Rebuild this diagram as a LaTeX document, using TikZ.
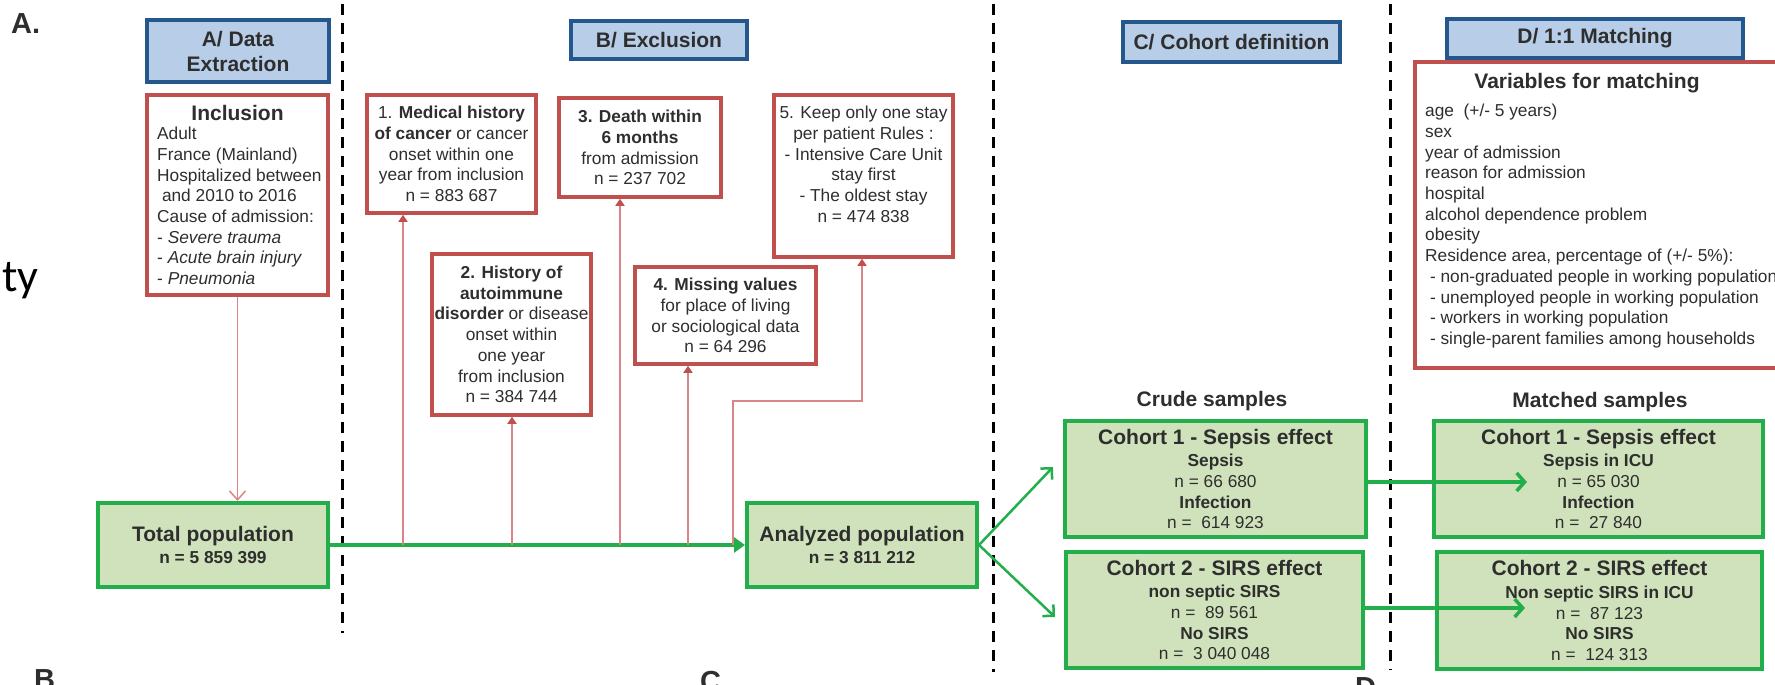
\documentclass[tikz,border=0pt]{standalone}
\usepackage{fontspec}
\setmainfont{Liberation Sans}
\newfontfamily\fragfont{Carlito}
\usetikzlibrary{arrows.meta}

\definecolor{hdrfill}{HTML}{B7CDE8}
\definecolor{hdrline}{HTML}{24588C}
\definecolor{redline}{HTML}{C0504D}
\definecolor{redarrow}{HTML}{D98587}
\definecolor{grfill}{HTML}{D0E2BB}
\definecolor{grline}{HTML}{22AE4B}
\definecolor{txt}{HTML}{2E2E2E}

\tikzset{
 hdr/.style={draw=hdrline, fill=hdrfill, line width=3.5pt, inner sep=0pt, align=center, font=\fontsize{21}{25}\selectfont\bfseries, text=txt},
 redbox/.style={draw=redline, line width=3.5pt, fill=white, inner sep=0pt, align=center, font=\fontsize{17.3}{20.7}\selectfont, text=txt},
 grbox/.style={draw=grline, fill=grfill, line width=4pt, inner sep=0pt, align=center, font=\fontsize{17.3}{20.7}\selectfont, text=txt},
 bodytxt/.style={inner sep=0pt, align=left, font=\fontsize{17.3}{20.7}\selectfont, text=txt},
 bigtxt/.style={font=\fontsize{21}{25}\selectfont\bfseries, text=txt, inner sep=0pt},
 lbltxt/.style={font=\fontsize{29}{32}\selectfont\bfseries, text=txt, inner sep=0pt, anchor=north west},
 divider/.style={line width=3pt, dash pattern=on 11pt off 8pt},
 exarrow/.style={draw=redarrow, line width=1.5pt, -{Triangle[length=7pt,width=9pt,color=redline]}},
 inarrow/.style={draw=redarrow, line width=1.5pt, -{Straight Barb[length=9pt,width=16pt]}},
 mainarrow/.style={draw=grline, line width=4pt, -{Triangle[length=11pt,width=15pt]}},
 fanarrow/.style={draw=grline, line width=2.5pt, -{Straight Barb[length=8pt,width=16pt]}},
 matcharrow/.style={draw=grline, line width=3.5pt, -{Straight Barb[length=8pt,width=18pt]}},
}

\begin{document}
\begin{tikzpicture}[x=1pt,y=-1pt]
\useasboundingbox (0,0) rectangle (1775,685);
\clip (0,0) rectangle (1775,685);

% clipped fragments of surrounding figure
\node[lbltxt] (lblA) at (11,13) {A.};
\node[anchor=base east, inner sep=0pt, font=\fragfont\fontsize{46}{50}\selectfont, text=black] (frag) at (39,291) {ty};
\node[lbltxt] (lblB) at (34,669) {B};
\node[lbltxt] (lblC) at (700,671) {C};
\node[lbltxt] (lblD) at (1355,677) {D};

% dividers
\draw[divider] (342,4) -- (342,633);
\draw[divider] (993,4) -- (993,672);
\draw[divider] (1390,4) -- (1390,670);

% headers
\node[hdr, minimum width=182pt, minimum height=62pt] (hA) at (238,51) {A/ Data\\Extraction};
\node[hdr, minimum width=176pt, minimum height=38pt] (hB) at (659,40) {B/ Exclusion};
\node[hdr, minimum width=217pt, minimum height=40pt] (hC) at (1231.5,42) {C/ Cohort definition};
\node[hdr, minimum width=296pt, minimum height=39pt] (hD) at (1595,38.5) {D/ 1:1 Matching};

% inclusion
\node[redbox, minimum width=181pt, minimum height=200pt] (inc) at (237.5,195) {};
\node[bigtxt] (incT) at (237.5,113) {Inclusion};
\node[bodytxt, anchor=north west] (incB) at (157,127) {Adult\\France (Mainland)\\Hospitalized between\\\ and 2010 to 2016\\Cause of admission:\\- \textit{Severe trauma}\\- \textit{Acute brain injury}\\- \textit{Pneumonia}};

% exclusion boxes
\node[redbox, minimum width=169pt, minimum height=118pt] (b1) at (451.5,154) {1. \textbf{Medical history}\\\textbf{of cancer} or cancer\\onset within one\\year from inclusion\\n = 883 687};
\node[redbox, minimum width=159pt, minimum height=161pt] (b2) at (511.5,334.5) {\textbf{2. History of}\\\textbf{autoimmune}\\\textbf{disorder} or disease\\onset within\\one year\\from inclusion\\n = 384 744};
\node[redbox, minimum width=162pt, minimum height=99pt] (b3) at (640,147.5) {\textbf{3. Death within}\\\textbf{6 months}\\from admission\\n = 237 702};
\node[redbox, minimum width=181pt, minimum height=97pt] (b4) at (725.5,315.5) {\textbf{4. Missing values}\\for place of living\\or sociological data\\n = 64 296};
\node[redbox, minimum width=179pt, minimum height=162pt] (b5) at (863.5,176) {};
\node[bodytxt, align=center, anchor=north] (b5t) at (863.5,106) {5. Keep only one stay\\per patient Rules :\\- Intensive Care Unit\\stay first\\- The oldest stay\\n = 474 838};

% populations
\node[grbox, minimum width=230pt, minimum height=84pt] (tot) at (213,545) {{\fontsize{21}{25}\selectfont\bfseries Total population}\\[1pt]\textbf{n = 5 859 399}};
\node[grbox, minimum width=230pt, minimum height=84pt] (ana) at (862,545) {{\fontsize{21}{25}\selectfont\bfseries Analyzed population}\\[1pt]\textbf{n = 3 811 212}};

% crude samples
\node[bigtxt] (crude) at (1212,401) {Crude samples};
\node[grbox, minimum width=301pt, minimum height=116pt] (c1) at (1215.5,479) {{\fontsize{21}{25}\selectfont\bfseries Cohort 1 - Sepsis effect}\\[2pt]\textbf{Sepsis}\\n = 66 680\\\textbf{Infection}\\n = \ 614 923};
\node[grbox, minimum width=297pt, minimum height=116pt] (c2) at (1214.5,610) {{\fontsize{21}{25}\selectfont\bfseries Cohort 2 - SIRS effect}\\[2pt]\textbf{non septic SIRS}\\n = \ 89 561\\\textbf{No SIRS}\\n = \ 3 040 048};

% matched samples
\node[bigtxt] (matched) at (1600,402) {Matched samples};
\node[grbox, minimum width=329pt, minimum height=116pt] (m1) at (1598.5,479) {{\fontsize{21}{25}\selectfont\bfseries Cohort 1 - Sepsis effect}\\[2pt]\textbf{Sepsis in ICU}\\n = 65 030\\\textbf{Infection}\\n = \ 27 840};
\node[grbox, minimum width=325pt, minimum height=117pt] (m2) at (1599.5,610.5) {{\fontsize{21}{25}\selectfont\bfseries Cohort 2 - SIRS effect}\\[2pt]\textbf{Non septic SIRS in ICU}\\n = \ 87 123\\\textbf{No SIRS}\\n = \ 124 313};

% variables for matching
\node[redbox, minimum width=370pt, minimum height=306pt] (var) at (1600,215) {};
\node[bigtxt] (varT) at (1587,83) {Variables for matching};
\node[bodytxt, anchor=north west] (varB) at (1425,104) {age\ \ (+/- 5 years)\\sex\\year of admission\\reason for admission\\hospital\\alcohol dependence problem\\obesity\\Residence area, percentage of (+/- 5\%):\\\ - non-graduated people in working population\\\ - unemployed people in working population\\\ - workers in working population\\\ - single-parent families among households};

% connectors
\draw[inarrow] (inc.south) -- (inc.south |- tot.north);
\draw[mainarrow] (tot.east) -- (ana.west);

\coordinate (j1) at (403,545);
\coordinate (j2) at (512,545);
\coordinate (j3) at (620,545);
\coordinate (j4) at (688,545);
\coordinate (j5) at (733,545);
\coordinate (k5) at (862,401);
\draw[exarrow] (j1) -- (j1 |- b1.south);
\draw[exarrow] (j2) -- (j2 |- b2.south);
\draw[exarrow] (j3) -- (j3 |- b3.south);
\draw[exarrow] (j4) -- (j4 |- b4.south);
\draw[exarrow] (j5) |- (k5) -- (k5 |- b5.south);

\coordinate (t1) at (1053,467);
\coordinate (t2) at (1055,617);
\draw[fanarrow] (ana.east) -- (t1);
\draw[fanarrow] (ana.east) -- (t2);

\coordinate (e1) at (1527,482);
\coordinate (e2) at (1525,608);
\draw[matcharrow] (c1.east |- e1) -- (e1);
\draw[matcharrow] (c2.east |- e2) -- (e2);
\end{tikzpicture}
\end{document}
